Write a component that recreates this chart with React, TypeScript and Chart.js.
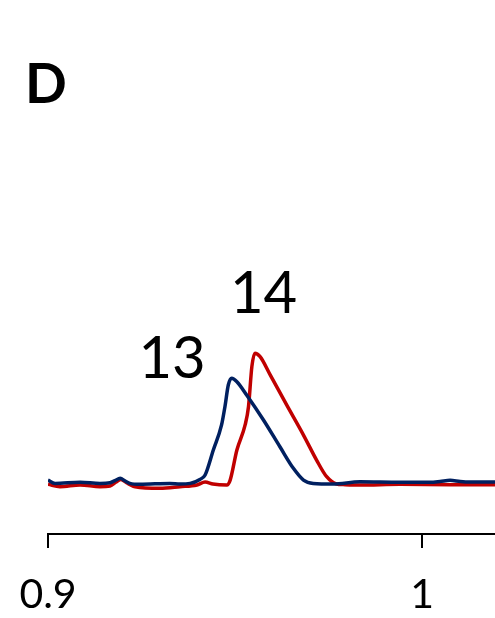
import React, { useEffect, useRef } from "react";
import { Chart, registerables } from "chart.js";

Chart.register(...registerables);

// Peak 13 (navy) trace
const peak13X = [0.9, 0.9019, 0.9086, 0.9139, 0.9166, 0.9179, 0.9193, 0.9206, 0.9219, 0.9246, 0.9326, 0.9353, 0.938, 0.9406, 0.942, 0.9442, 0.9464, 0.9473, 0.9482, 0.9491, 0.9505, 0.9531, 0.9576, 0.962, 0.9656, 0.9683, 0.9709, 0.9762, 0.9834, 0.9941, 1.0021, 1.0048, 1.0075, 1.0102, 1.0128, 1.0195];
const peak13Y = [4.5, 2.0, 2.8, 2.0, 2.5, 4.1, 5.8, 3.8, 2.0, 1.3, 2.0, 1.5, 2.0, 5.0, 8.3, 27.1, 45.9, 59.6, 75.9, 81.0, 78.4, 68.4, 49.6, 29.5, 13.3, 4.5, 2.0, 1.5, 3.2, 2.8, 2.8, 3.4, 4.3, 3.4, 3.0, 3.0];

// Peak 14 (red) trace
const peak14X = [0.9, 0.9032, 0.9086, 0.9139, 0.9166, 0.9182, 0.9195, 0.9211, 0.9233, 0.9299, 0.9353, 0.9398, 0.942, 0.9441, 0.9478, 0.9487, 0.9505, 0.9527, 0.9536, 0.9545, 0.9553, 0.9567, 0.9594, 0.9638, 0.9683, 0.9718, 0.9745, 0.9772, 0.9789, 0.9834, 0.9941, 1.0075, 1.0195];
const peak14Y = [1.3, -0.5, 0.8, -0.5, 0.0, 3.0, 5.0, 2.3, -0.5, -1.7, -0.5, 0.8, 3.0, 1.5, 0.8, 4.5, 27.1, 45.9, 59.6, 89.7, 99.8, 97.2, 83.5, 60.9, 38.3, 19.5, 7.0, 1.5, 1.1, 0.8, 1.3, 1.0, 1.0];

// Axis ticks
const xTickValues = [0.9, 1.0];
const xMin = 0.9;
const xMax = 1.0195;

// Peak annotations
const annotationLabels = ["13", "14"];
const annotationX = [0.93316, 0.95762];
const annotationY = [81.2, 130.1];

const panelLabel = "D";

const textPlugin = {
  id: "peakText",
  afterDraw(chart: any) {
    const ctx = chart.ctx;
    const xs = chart.scales.x;
    const ys = chart.scales.y;
    ctx.save();
    ctx.fillStyle = "#000";
    ctx.textBaseline = "alphabetic";
    ctx.textAlign = "center";
    ctx.font = "58px Lato";
    annotationLabels.forEach((t, i) => {
      ctx.fillText(t, xs.getPixelForValue(annotationX[i]), ys.getPixelForValue(annotationY[i]));
    });
    ctx.textAlign = "left";
    ctx.font = "bold 55px Lato";
    ctx.fillText(panelLabel, 25, 103);
    ctx.restore();
  },
};

export default function App() {
  const ref = useRef<HTMLCanvasElement>(null);
  useEffect(() => {
    if (!ref.current) return;
    const chart = new Chart(ref.current, {
      type: "line",
      data: {
        datasets: [
          {
            label: "13",
            data: peak13X.map((x, i) => ({ x, y: peak13Y[i] })),
            borderColor: "#002060",
            borderWidth: 3.5,
            pointRadius: 0,
            cubicInterpolationMode: "monotone",
            fill: false,
          },
          {
            label: "14",
            data: peak14X.map((x, i) => ({ x, y: peak14Y[i] })),
            borderColor: "#C00000",
            borderWidth: 3.5,
            pointRadius: 0,
            cubicInterpolationMode: "monotone",
            fill: false,
          },
        ],
      },
      options: {
        animation: false,
        responsive: false,
        layout: { padding: { left: 48, right: 0, top: 0, bottom: 0 } },
        plugins: { legend: { display: false }, tooltip: { enabled: false } },
        scales: {
          x: {
            type: "linear",
            min: xMin,
            max: xMax,
            afterBuildTicks: (scale: any) => {
              scale.ticks = xTickValues.map((v) => ({ value: v }));
            },
            afterFit: (scale: any) => {
              scale.height = 84;
              scale.paddingLeft = 0;
              scale.paddingRight = 0;
            },
            grid: { drawOnChartArea: false, drawTicks: true, tickLength: 14, color: "#000", lineWidth: 2 },
            border: { display: true, color: "#000", width: 2 },
            ticks: {
              color: "#000",
              font: { family: "Lato", size: 41, lineHeight: 1.17 },
              padding: 23,
              maxRotation: 0,
              autoSkip: false,
              callback: (v: any) => String(Number(v)),
            },
          },
          y: { display: false, min: -36, max: 365 },
        },
      },
      plugins: [textPlugin],
    });
    return () => chart.destroy();
  }, []);
  return (
    <div style={{ position: "fixed", left: 0, top: 0, width: 495, height: 618, background: "#fff" }}>
      <canvas ref={ref} width={495} height={618} />
    </div>
  );
}
